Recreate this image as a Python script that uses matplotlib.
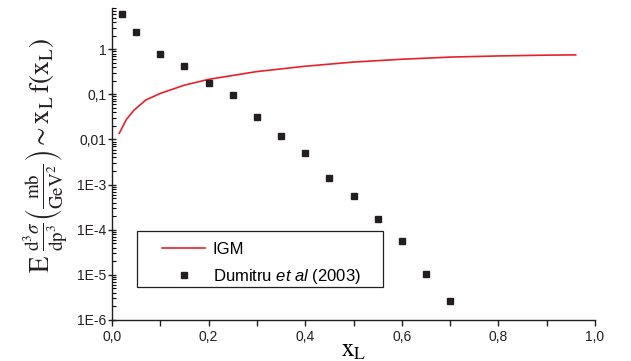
import numpy as np
import matplotlib
matplotlib.use("Agg")
from matplotlib import pyplot as plt
from matplotlib.patches import Rectangle
from matplotlib.ticker import FixedLocator, LogLocator, NullFormatter, MultipleLocator

plt.rcParams['font.family'] = ['Liberation Sans', 'DejaVu Sans']
plt.rcParams['mathtext.fontset'] = 'custom'
plt.rcParams['mathtext.rm'] = 'Liberation Sans'
plt.rcParams['mathtext.it'] = 'Liberation Sans:italic'

# IGM curve
igm_x = [0.015, 0.03, 0.045, 0.07, 0.1, 0.15, 0.2, 0.3, 0.4, 0.5, 0.6, 0.7, 0.8, 0.9, 0.96]
igm_y = [0.0137, 0.028, 0.044, 0.075, 0.105, 0.16, 0.215, 0.32, 0.42, 0.52, 0.6, 0.67, 0.71, 0.74, 0.75]

# Dumitru et al (2003) points
dum_x = [0.02, 0.05, 0.1, 0.15, 0.2, 0.25, 0.3, 0.35, 0.4, 0.45, 0.5, 0.55, 0.6, 0.65, 0.7]
dum_y = [6.0, 2.4, 0.77, 0.42, 0.176, 0.095, 0.032, 0.0117, 0.0051, 0.00137,
         0.00057, 1.7e-4, 5.6e-5, 1.07e-5, 2.6e-6]

ytick_vals = [1e-6, 1e-5, 1e-4, 1e-3, 1e-2, 1e-1, 1]
ytick_labels = ['1E-6', '1E-5', '1E-4', '1E-3', '0,01', '0,1', '1']
xtick_vals = [0.0, 0.2, 0.4, 0.6, 0.8, 1.0]
xtick_labels = ['0,0', '0,2', '0,4', '0,6', '0,8', '1,0']

fig = plt.figure(figsize=(6.31, 3.61), dpi=100)
ax = fig.add_axes([112/631, 1-320/361, 483/631, 312/361])

ax.plot(igm_x, igm_y, color='#e8202a', lw=1.2, label='IGM')
ax.plot(dum_x, dum_y, ls='none', marker='s', ms=4.5, color='#231f20',
        label=r'Dumitru $\mathit{et\ al}$ (2003)')

ax.set_yscale('log')
ax.set_xlim(0, 1.0)
ax.set_ylim(1e-6, 8.2)

ax.yaxis.set_major_locator(FixedLocator(ytick_vals))
ax.set_yticklabels(ytick_labels)
ax.yaxis.set_minor_locator(LogLocator(base=10, subs=np.arange(2, 10)))
ax.yaxis.set_minor_formatter(NullFormatter())
ax.set_xticks(xtick_vals)
ax.set_xticklabels(xtick_labels)
ax.xaxis.set_minor_locator(MultipleLocator(0.1))

ax.spines['top'].set_visible(False)
ax.spines['right'].set_visible(False)
for s in ['left', 'bottom']:
    ax.spines[s].set_linewidth(1.0)
    ax.spines[s].set_color('#231f20')

ax.tick_params(axis='y', which='major', direction='inout', length=6, width=1,
               labelsize=10, colors='#231f20', pad=1)
ax.tick_params(axis='y', which='minor', direction='in', length=3, width=0.8)
ax.tick_params(axis='x', which='both', direction='out', length=4, width=1,
               labelsize=10, colors='#231f20', pad=3)

ax.set_xlabel(r'$\mathrm{x_L}$', fontsize=18, math_fontfamily='stix', labelpad=-4)
fig.text(46/631, 1-156/361,
         r'$\mathrm{E}\;\frac{\mathrm{d}^3\sigma}{\mathrm{dp}^3}\left(\frac{\mathrm{mb}}{\mathrm{GeV}^2}\right)\sim \mathrm{x_L\,f(x_L)}$',
         rotation=90, ha='center', va='center', fontsize=19.5, math_fontfamily='stix',
         color='#231f20')

# legend box drawn separately (wider than the entries)
ax.add_patch(Rectangle((0.0518, 0.106), 0.509, 0.179, transform=ax.transAxes,
                       fill=True, facecolor='white', edgecolor='#231f20', lw=0.9, zorder=4))
leg = ax.legend(loc='center left', bbox_to_anchor=(0.1035, 0.18), fontsize=12,
                frameon=False, handlelength=2.6, borderpad=0, labelspacing=0.6,
                borderaxespad=0, handletextpad=0.45)
leg.set_zorder(5)

fig.savefig('out.png', dpi=100)
